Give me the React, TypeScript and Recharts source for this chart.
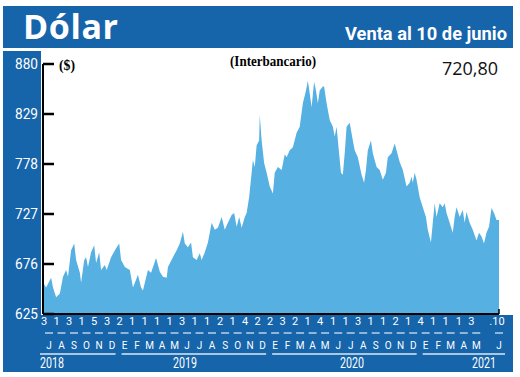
import React from "react";
import { AreaChart, Area, XAxis, YAxis } from "recharts";

// sesion = número de rueda desde el 3 de julio de 2018
const sesion = [
  0, 5, 13, 16, 21, 27, 32, 37, 40, 45, 50, 53, 59, 61, 66, 69, 72, 77, 82, 85,
  90, 93, 99, 102, 109, 117, 122, 125, 131, 139, 144, 149, 152, 157, 160, 168, 173, 181, 187, 192,
  198, 200, 208, 214, 219, 224, 227, 232, 237, 240, 246, 251, 254, 259, 264, 270, 275, 280, 286, 291,
  296, 302, 306, 310, 314, 318, 323, 326, 330, 334, 336, 339, 342, 346, 347, 350, 354, 358, 363, 368,
  371, 376, 382, 387, 390, 395, 400, 406, 411, 416, 421, 424, 427, 430, 434, 437, 440, 443, 448, 450,
  454, 459, 464, 467, 470, 474, 477, 480, 483, 486, 491, 496, 499, 504, 510, 514, 517, 520, 525, 528,
  534, 539, 544, 549, 552, 558, 563, 566, 571, 576, 582, 587, 590, 592, 595, 598, 603, 608, 613, 616,
  621, 624, 627, 630, 635, 640, 643, 646, 651, 656, 659, 662, 667, 672, 675, 678, 683, 688, 694, 698,
  702, 706, 710, 714, 718, 722, 726, 730,
];

const dolar = [
  657, 652, 662, 652, 642, 646, 663, 670, 663, 690, 697, 680, 667, 657, 680, 683, 673, 688, 695, 677,
  688, 670, 675, 670, 683, 692, 697, 680, 673, 670, 652, 660, 665, 652, 649, 670, 667, 682, 668, 663,
  662, 673, 683, 690, 697, 709, 697, 693, 698, 683, 680, 687, 680, 688, 698, 718, 711, 713, 724, 711,
  718, 726, 728, 714, 724, 713, 724, 728, 744, 769, 782, 775, 797, 802, 828, 802, 779, 769, 755, 748,
  769, 775, 772, 788, 785, 792, 795, 810, 816, 840, 853, 863, 850, 836, 862, 853, 840, 853, 857, 857,
  840, 823, 816, 806, 816, 789, 769, 767, 789, 816, 820, 802, 792, 785, 767, 759, 772, 792, 802, 789,
  775, 772, 762, 769, 785, 789, 799, 792, 780, 772, 755, 759, 765, 759, 769, 762, 744, 734, 724, 711,
  698, 718, 738, 724, 738, 734, 738, 728, 718, 708, 724, 734, 724, 731, 718, 729, 718, 711, 700, 708,
  704, 697, 708, 714, 733, 728, 721, 720.8,
];

const yTicks = [625, 676, 727, 778, 829, 880];

// primera rueda de cada mes
const sesionMes = [
  0, 20, 40, 60, 80, 101, 121, 141, 161, 181, 201, 221, 241, 261, 282, 302, 322, 342,
  362, 382, 402, 422, 442, 463, 483, 503, 523, 543, 563, 583, 603, 623, 643, 664, 684, 730,
];
const diaMes = [
  "3", "1", "3", "1", "5", "3", "2", "1", "1", "1", "1", "3", "1", "1", "2", "1", "4", "2",
  "2", "3", "2", "1", "4", "1", "1", "3", "1", "1", "2", "1", "4", "1", "1", "1", "3", ".10",
];
const letraMes = [
  "J", "A", "S", "O", "N", "D", "E", "F", "M", "A", "M", "J", "J", "A", "S", "O", "N", "D",
  "E", "F", "M", "A", "M", "J", "J", "A", "S", "O", "N", "D", "E", "F", "M", "A", "M", "J",
];

const data = sesion.map((t, i) => ({ t, v: dolar[i] }));

const W = 520;
const H = 377;
const LEFT = 43;
const RIGHT = 499;
const TOP = 64;
const BOTTOM = 314;
const BLUE = "#1664aa";
const FILL = "#56b0e1";
const xOf = (t: number) => LEFT + (t * (RIGHT - LEFT)) / 730;

const YTick = (props: any) => {
  const { y, payload } = props;
  return (
    <g>
      <line x1={LEFT} x2={LEFT + 11} y1={y} y2={y} stroke="#000" strokeWidth={2.5} />
      <text x={38} y={y + 5} textAnchor="end" fill="#fff" fontSize={15} fontFamily="Roboto" textLength={23} lengthAdjust="spacingAndGlyphs">
        {payload.value}
      </text>
    </g>
  );
};

const XTick = (props: any) => {
  const { x, payload } = props;
  const i = sesionMes.indexOf(payload.value);
  if (i < 0) return null;
  const last = i === sesionMes.length - 1;
  const c = last ? x : x + 6;
  return (
    <g fontFamily="Roboto" fill="#fff">
      <text x={last ? x - 2 : x + 1} y={325} textAnchor="middle" fontSize={11}>
        {diaMes[i]}
      </text>
      <line x1={c - 4} x2={c + 4} y1={333} y2={333} stroke="#b8d0ea" strokeWidth={1.5} />
      <text x={c} y={349} textAnchor="middle" fontSize={10}>
        {letraMes[i]}
      </text>
    </g>
  );
};

const years = [
  { label: "2018", from: 0, tx: 40, anchor: "start" },
  { label: "2019", from: 121, tx: 185, anchor: "middle" },
  { label: "2020", from: 362, tx: 352, anchor: "middle" },
  { label: "2021", from: 603, tx: 484, anchor: "middle" },
];

export default function App() {
  return (
    <div style={{ position: "absolute", left: 0, top: 0, width: W, height: H, background: "#fff", overflow: "hidden" }}>
      <svg width={W} height={H} style={{ position: "absolute", left: 0, top: 0 }}>
        <rect x={3} y={6} width={510} height={42} fill={BLUE} />
        <rect x={3} y={51} width={38} height={264} fill={BLUE} />
        <rect x={3} y={315} width={510} height={57} fill={BLUE} />
        <text x={23} y={39} fill="#fff" fontSize={34} fontWeight={700} fontFamily="'Open Sans'" textLength={95} lengthAdjust="spacing">
          Dólar
        </text>
        <text x={345} y={40} fill="#fff" fontSize={19} fontWeight={700} fontFamily="Roboto" textLength={162} lengthAdjust="spacingAndGlyphs">
          Venta al 10 de junio
        </text>
        {years.map((yr, i) => {
          const x1 = i === 0 ? 40 : xOf(yr.from) + 3;
          const x2 = i === years.length - 1 ? 505 : xOf(years[i + 1].from) - 3;
          return (
            <g key={yr.label}>
              <line x1={x1} x2={x2} y1={354} y2={354} stroke="#dce8f4" strokeWidth={1.5} />
              <text x={yr.tx} y={368} textAnchor={yr.anchor as any} fill="#fff" fontSize={14} fontFamily="Roboto" textLength={24} lengthAdjust="spacingAndGlyphs">
                {yr.label}
              </text>
            </g>
          );
        })}
      </svg>
      <div style={{ position: "absolute", left: 0, top: 0 }}>
        <AreaChart width={W} height={H} data={data} margin={{ top: TOP, right: W - RIGHT, bottom: H - BOTTOM - 60, left: 0 }}>
          <XAxis
            dataKey="t"
            type="number"
            domain={[0, 730]}
            ticks={sesionMes}
            interval={0}
            height={60}
            tickLine={false}
            axisLine={{ stroke: "#000", strokeWidth: 2 }}
            tick={<XTick />}
          />
          <YAxis
            type="number"
            domain={[625, 880]}
            ticks={yTicks}
            interval={0}
            width={LEFT}
            tickLine={false}
            axisLine={{ stroke: "#000", strokeWidth: 2 }}
            tick={<YTick />}
          />
          <Area type="linear" dataKey="v" stroke="none" fill={FILL} fillOpacity={1} isAnimationActive={false} />
        </AreaChart>
      </div>
      <svg width={W} height={H} style={{ position: "absolute", left: 0, top: 0, pointerEvents: "none" }}>
        <text x={59} y={70} fontSize={15} fontWeight={700} fontFamily="'Liberation Serif'" textLength={16} lengthAdjust="spacingAndGlyphs">
          ($)
        </text>
        <text x={230} y={66} fontSize={15} fontWeight={700} fontFamily="'Liberation Serif'" textLength={86} lengthAdjust="spacingAndGlyphs">
          (Interbancario)
        </text>
        <text x={498} y={75} textAnchor="end" fontSize={18} fontFamily="'Open Sans'" fill="#111">
          720,80
        </text>
        <line x1={RIGHT} x2={RIGHT} y1={309} y2={BOTTOM} stroke="#000" strokeWidth={1.5} />
      </svg>
    </div>
  );
}
